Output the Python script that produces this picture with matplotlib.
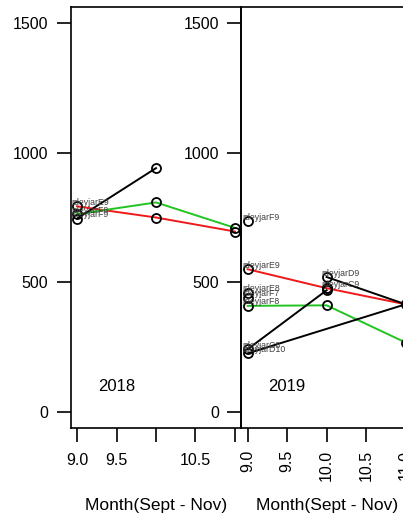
import numpy as np
import matplotlib
matplotlib.use("Agg")
import matplotlib.pyplot as plt

plt.rcParams["font.family"] = ["Liberation Sans", "DejaVu Sans"]

# --- 2018 season ---
x_e9_2018 = [9.0, 10.0, 11.0]
y_e9_2018 = [793, 750, 696]
x_f8_2018 = [9.0, 10.0, 11.0]
y_f8_2018 = [763, 808, 710]
x_f9_2018 = [9.0, 10.0]
y_f9_2018 = [746, 940]

# --- 2019 season ---
x_e9_2019 = [9.0, 10.0, 11.0]
y_e9_2019 = [551, 478, 416]
x_f8_2019 = [9.0, 10.0, 11.0]
y_f8_2019 = [410, 412, 269]
x_c8_2019 = [9.0, 10.0]
y_c8_2019 = [243, 470]
x_d10_2019 = [9.0, 11.0]
y_d10_2019 = [227, 416]
x_d9_2019 = [10.0, 11.0]
y_d9_2019 = [521, 416]
x_c9_2019 = [10.0]
y_c9_2019 = [478]
x_f9_2019 = [9.0]
y_f9_2019 = [735]
x_e8_2019 = [9.0]
y_e8_2019 = [461]
x_f7_2019 = [9.0]
y_f7_2019 = [442]

years = ["2018", "2019"]
yticks = [0, 500, 1000, 1500]
xticks = [9.0, 9.5, 10.0, 10.5, 11.0]
xticklabels_2018 = ["9.0", "9.5", "", "10.5", ""]
xticklabels_2019 = ["9.0", "9.5", "10.0", "10.5", "11.0"]

RED = "#f01818"
GREEN = "#22c422"
BLACK = "black"

panels = [
    [  # (label, x, y, colour)
        ("rdeyjarE9", x_e9_2018, y_e9_2018, RED),
        ("rdeyjarF8", x_f8_2018, y_f8_2018, GREEN),
        ("rdeyjarF9", x_f9_2018, y_f9_2018, BLACK),
    ],
    [
        ("rdeyjarF9", x_f9_2019, y_f9_2019, BLACK),
        ("rdeyjarE9", x_e9_2019, y_e9_2019, RED),
        ("rdeyjarE8", x_e8_2019, y_e8_2019, BLACK),
        ("rdeyjarF7", x_f7_2019, y_f7_2019, BLACK),
        ("rdeyjarF8", x_f8_2019, y_f8_2019, GREEN),
        ("rdeyjarC8", x_c8_2019, y_c8_2019, BLACK),
        ("rdeyjarD10", x_d10_2019, y_d10_2019, BLACK),
        ("rdeyjarD9", x_d9_2019, y_d9_2019, BLACK),
        ("rdeyjarC9", x_c9_2019, y_c9_2019, BLACK),
    ],
]

W, H = 403, 516
fig = plt.figure(figsize=(W / 100, H / 100), dpi=100)

# plot boxes in pixels: left, top, right, bottom
boxes = [(70.7, 7, 241.3, 428), (241.3, 7, 411.9, 428)]

for i, (box, series) in enumerate(zip(boxes, panels)):
    l, t, r, b = box
    ax = fig.add_axes([l / W, 1 - b / H, (r - l) / W, (b - t) / H])
    ax.patch.set_alpha(0)
    ax.set_xlim(8.92, 11.08)
    ax.set_ylim(-60, 1560)

    for name, xs, ys, col in series:
        ax.plot(xs, ys, color=col, lw=1.4, zorder=2)
        ax.plot(xs, ys, ls="none", marker="o", ms=6.5, mfc="none",
                mec="black", mew=1.3, zorder=3)
        ax.text(xs[0] - 0.07, ys[0] + 15, name, fontsize=6.3,
                color="#404040", ha="left", va="center", zorder=4)

    ax.text(9.5, 100, years[i], fontsize=12, ha="center", va="center")

    ax.set_yticks(yticks)
    ax.set_yticklabels([str(v) for v in yticks])
    ax.set_xticks(xticks)
    if i == 0:
        ax.set_xticklabels(xticklabels_2018)
        ax.tick_params(axis="x", pad=8)
    else:
        ax.set_xticklabels(xticklabels_2019, rotation=90)
        ax.tick_params(axis="x", pad=6)
    ax.tick_params(axis="y", pad=6)
    ax.tick_params(length=10, width=1.2, labelsize=11.5, direction="out")
    for sp in ax.spines.values():
        sp.set_linewidth(1.2)

    ax.set_xlabel("Month(Sept - Nov)", fontsize=12.5, va="center")
    ax.xaxis.set_label_coords(0.5, -0.183)

fig.savefig("out.png", dpi=100)
